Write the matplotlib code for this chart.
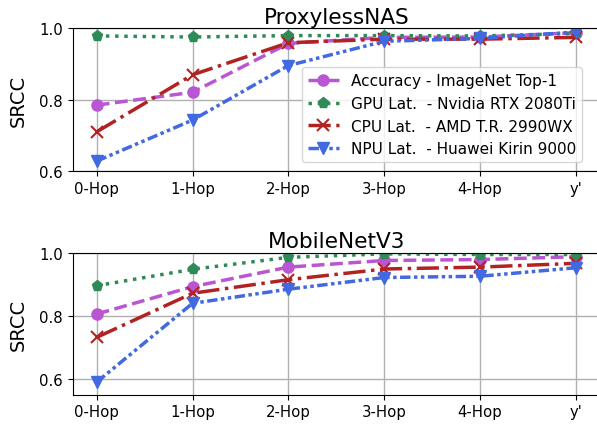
import matplotlib
matplotlib.use("Agg")
import matplotlib.pyplot as plt

categories = ["0-Hop", "1-Hop", "2-Hop", "3-Hop", "4-Hop", "y'"]
titles = ["ProxylessNAS", "MobileNetV3"]
labels = ["Accuracy - ImageNet Top-1", "GPU Lat.  - Nvidia RTX 2080Ti",
          "CPU Lat.  - AMD T.R. 2990WX", "NPU Lat.  - Huawei Kirin 9000"]

pn_acc = [0.785, 0.821, 0.958, 0.975, 0.976, 0.988]
pn_gpu = [0.979, 0.976, 0.980, 0.980, 0.979, 0.986]
pn_cpu = [0.710, 0.870, 0.960, 0.970, 0.970, 0.975]
pn_npu = [0.628, 0.743, 0.896, 0.964, 0.972, 0.990]

mb_acc = [0.806, 0.893, 0.955, 0.976, 0.979, 0.988]
mb_gpu = [0.896, 0.948, 0.986, 0.997, 0.995, 0.995]
mb_cpu = [0.732, 0.872, 0.915, 0.949, 0.955, 0.967]
mb_npu = [0.590, 0.840, 0.885, 0.922, 0.926, 0.953]

colors = ["mediumorchid", "seagreen", "firebrick", "royalblue"]
styles = ["--", ":", "-.", (0, (3, 1, 1, 1, 1, 1))]
markers = ["o", "p", "x", "v"]

fig = plt.figure(figsize=(5.97, 4.27), dpi=100)
ax1 = fig.add_axes([0.1218, 0.597, 0.883, 0.334])
ax2 = fig.add_axes([0.1218, 0.0733, 0.883, 0.332])

data = [[pn_acc, pn_gpu, pn_cpu, pn_npu], [mb_acc, mb_gpu, mb_cpu, mb_npu]]
ylims = [(0.6, 1.0), (0.55, 1.0)]
x = list(range(len(categories)))
for ax, series, title, yl in zip([ax1, ax2], data, titles, ylims):
    for s, c, ls, m, lab in zip(series, colors, styles, markers, labels):
        ax.plot(x, s, color=c, linestyle=ls, marker=m, lw=2.5, ms=8,
                mew=1.5 if m == "x" else 1, label=lab)
    ax.set_xticks(x)
    ax.set_xticklabels(categories)
    ax.set_xlim(-0.25, 5.25)
    ax.set_ylim(*yl)
    ax.set_yticks([0.6, 0.8, 1.0])
    ax.grid(True, color="#b0b0b0", lw=1)
    ax.set_axisbelow(True)
    ax.set_title(title, fontsize=15.6, pad=4)
    ax.set_ylabel("SRCC", fontsize=14, labelpad=8)
    ax.tick_params(labelsize=10.7)

ax1.legend(loc="upper left", bbox_to_anchor=(0.435, 0.729), borderaxespad=0,
           fontsize=11, handlelength=2.0, labelspacing=0.5)

fig.savefig("out.png", dpi=100)
